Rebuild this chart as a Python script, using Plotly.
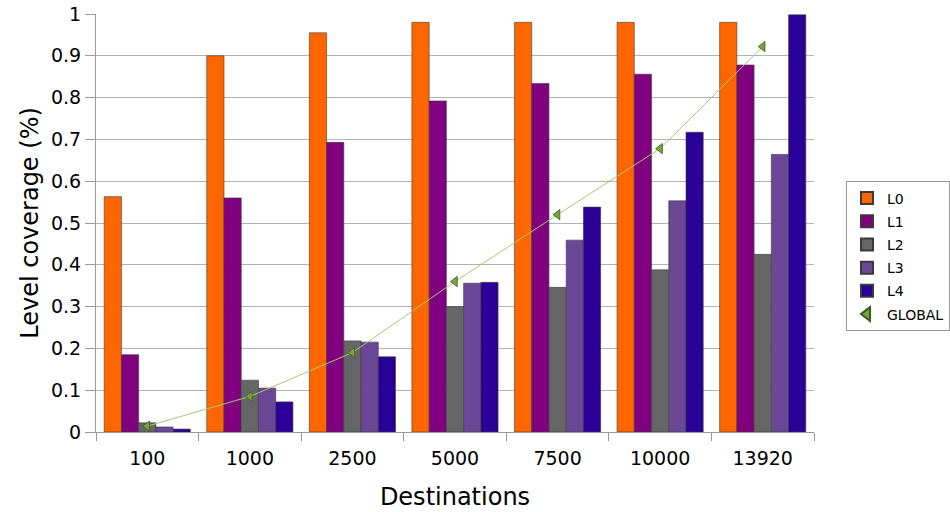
import plotly.graph_objects as go

categories = ["100", "1000", "2500", "5000", "7500", "10000", "13920"]
L0 = [0.563, 0.90, 0.955, 0.98, 0.98, 0.98, 0.98]
L1 = [0.185, 0.56, 0.693, 0.792, 0.834, 0.856, 0.878]
L2 = [0.022, 0.124, 0.218, 0.30, 0.346, 0.388, 0.425]
L3 = [0.012, 0.105, 0.215, 0.356, 0.459, 0.553, 0.664]
L4 = [0.007, 0.072, 0.18, 0.358, 0.538, 0.717, 0.998]
GLOBAL = [0.014, 0.085, 0.19, 0.36, 0.52, 0.678, 0.922]

series = [("L0", L0, "#ff6600"), ("L1", L1, "#800080"), ("L2", L2, "#666666"),
          ("L3", L3, "#6b4797"), ("L4", L4, "#2a0099")]

fig = go.Figure()
for name, vals, col in series:
    fig.add_trace(go.Bar(x=categories, y=vals, name=name, marker_color=col,
                         legendgroup=name,
                         marker_line=dict(color="#3a3a3a", width=0.6)))
gmarker = dict(symbol="triangle-left", size=9, color="#77a33b",
               line=dict(color="#3d5a1c", width=0.8))
fig.add_trace(go.Scatter(x=categories, y=GLOBAL, name="GLOBAL", mode="lines+markers",
                         line=dict(color="#a8c878", width=1), marker=gmarker,
                         showlegend=False))
fig.add_trace(go.Scatter(x=[None], y=[None], name="GLOBAL", mode="markers",
                         legendgroup="GLOBAL", marker=gmarker, showlegend=True))

fig.update_layout(
    width=950, height=512,
    margin=dict(l=96, r=136, t=14, b=80, autoexpand=False),
    paper_bgcolor="white", plot_bgcolor="white",
    font=dict(family="DejaVu Sans", color="#000000", size=19),
    barmode="group", bargap=0.16, bargroupgap=0,
    legend=dict(x=1.0446, y=0.42, xanchor="left", yanchor="middle",
                bordercolor="#999999", borderwidth=1, font=dict(size=14),
                tracegroupgap=2, itemsizing="constant", itemwidth=30),
    xaxis=dict(title=dict(text="Destinations", font=dict(size=24), standoff=20),
               automargin=False, ticklabelstandoff=9,
               showline=True, linecolor="#999999", linewidth=1,
               ticks="outside", tickson="boundaries", ticklen=8, tickcolor="#999999",
               showgrid=False),
    yaxis=dict(title=dict(text="Level coverage (%)", font=dict(size=24), standoff=5),
               automargin=False, ticklabeloverflow="allow",
               range=[0, 1], dtick=0.1, tickformat="~g",
               showline=True, linecolor="#999999", linewidth=1,
               ticks="outside", ticklen=10, tickcolor="#999999",
               showgrid=True, gridcolor="#b3b3b3", gridwidth=1, zeroline=False),
)

fig.write_html("out.html", config={"displayModeBar": False},
               post_script="document.body.style.margin='0';document.body.style.padding='0';")
